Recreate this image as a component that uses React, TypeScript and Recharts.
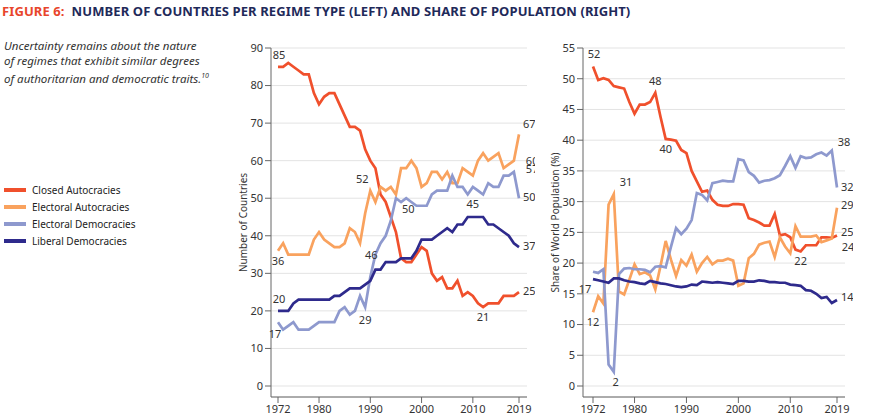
import React from "react";
import { CartesianGrid, Label, LabelList, Line, LineChart, XAxis, YAxis } from "recharts";

const years = Array.from({ length: 48 }, (_, i) => 1972 + i);

const closedCount = [85, 85, 86, 85, 84, 83, 83, 78, 75, 77, 78, 78, 75, 72, 69, 69, 68, 63, 60, 58, 51, 49, 45, 41, 34, 33, 33, 35, 37, 36, 30, 28, 29, 26, 26, 28, 24, 25, 24, 22, 21, 22, 22, 22, 24, 24, 24, 25];
const electoralAutCount = [36, 38, 35, 35, 35, 35, 35, 39, 41, 39, 38, 37, 37, 38, 42, 41, 38, 46, 52, 49, 53, 52, 53, 51, 58, 58, 60, 58, 53, 54, 57, 57, 55, 57, 54, 54, 58, 57, 56, 60, 62, 60, 61, 62, 58, 59, 60, 67];
const electoralDemCount = [17, 15, 16, 17, 15, 15, 15, 16, 17, 17, 17, 17, 20, 21, 19, 20, 24, 21, 29, 35, 38, 40, 44, 50, 49, 50, 49, 48, 48, 48, 51, 52, 52, 52, 56, 53, 53, 51, 53, 52, 51, 54, 53, 53, 56, 56, 57, 50];
const liberalCount = [20, 20, 20, 22, 23, 23, 23, 23, 23, 23, 23, 24, 24, 25, 26, 26, 26, 27, 28, 31, 31, 33, 33, 33, 34, 34, 34, 36, 39, 39, 39, 40, 41, 42, 41, 43, 43, 45, 45, 45, 45, 43, 43, 42, 41, 40, 38, 37];

const closedShare = [52, 49.8, 50.1, 49.8, 48.8, 48.6, 48.4, 46.2, 44.3, 45.8, 45.8, 46.2, 47.7, 43.8, 40.2, 40.1, 39.9, 38.4, 37.9, 35, 33.3, 31.6, 31.8, 30.3, 29.5, 29.3, 29.3, 29.6, 29.6, 29.5, 27.3, 27, 26.6, 26.1, 26.1, 28, 24.5, 24.7, 24.2, 22.2, 21.9, 22.9, 22.9, 22.9, 24.2, 24.2, 24.1, 24.5];
const electoralAutShare = [12, 14.6, 13.4, 29.5, 31.2, 15.4, 14.9, 17.3, 19.8, 18.2, 18.5, 18, 15.7, 19.5, 23.6, 20.6, 17.9, 20.5, 19.6, 21.4, 18.6, 20, 21, 19.8, 20.4, 20.4, 20.7, 20.4, 16.3, 16.7, 20.8, 21.5, 23, 23.3, 23.5, 21, 24.2, 22.7, 21.6, 26, 24.3, 24.3, 24.3, 24.5, 23.4, 23.7, 24, 29];
const electoralDemShare = [18.6, 18.4, 19, 3.5, 2.3, 18.2, 19.1, 19.2, 19, 19, 18.9, 18.5, 19.4, 19.5, 19.3, 22.6, 25.7, 24.7, 25.6, 27, 31.4, 31.1, 30.2, 33, 33.2, 33.4, 33.3, 33.3, 36.9, 36.7, 34.8, 34.2, 33.1, 33.4, 33.5, 33.8, 34.3, 35.8, 37.4, 35.5, 37.4, 37.1, 37.2, 37.7, 38, 37.5, 38.3, 32.3];
const liberalShare = [17.4, 17.2, 17, 16.8, 17.5, 17.5, 17.2, 17, 16.9, 16.7, 16.6, 17.1, 16.9, 16.7, 16.6, 16.4, 16.2, 16.1, 16.2, 16.5, 16.4, 17, 16.9, 16.8, 16.9, 16.8, 16.7, 16.6, 17.1, 17.1, 17, 17, 17.2, 17.1, 16.9, 16.9, 16.8, 16.8, 16.5, 16.4, 16.3, 15.6, 15.5, 15, 14.3, 14.5, 13.5, 14];

const xTicks = [1972, 1980, 1990, 2000, 2010, 2019];
const countTicks = [0, 10, 20, 30, 40, 50, 60, 70, 80, 90];
const shareTicks = [0, 5, 10, 15, 20, 25, 30, 35, 40, 45, 50, 55];

const colors = { closed: "#F0502C", eAut: "#F9A25E", eDem: "#8E99CE", lib: "#2E2A8C" };
const font = "'Noto Sans', sans-serif";

const countData = years.map((year, i) => ({ year, closed: closedCount[i], eAut: electoralAutCount[i], eDem: electoralDemCount[i], lib: liberalCount[i] }));
const shareData = years.map((year, i) => ({ year, closed: closedShare[i], eAut: electoralAutShare[i], eDem: electoralDemShare[i], lib: liberalShare[i] }));

// index -> [text, dx, dy]
type Marks = Record<number, [string, number, number]>;

const countLabels: Record<string, Marks> = {
  closed: { 0: ["85", 1, -8], 40: ["21", 0, 14], 47: ["25", 4, 3] },
  eAut: { 0: ["36", 0, 14], 16: ["46", 5, 16], 18: ["52", -8, -8], 47: ["67", 4, -6], 46: ["60", 12, 4] },
  eDem: { 0: ["17", -3, 16], 17: ["29", 0, 17], 23: ["50", 6, 15], 46: ["57", 12, 1], 47: ["50", 4, 3] },
  lib: { 0: ["20", 1, -8], 38: ["45", 0, -9], 47: ["37", 4, 3] },
};
const shareLabels: Record<string, Marks> = {
  closed: { 0: ["52", 1, -8], 12: ["48", 0, -8], 14: ["40", 0, 14], 40: ["22", 0, 14], 47: ["25", 4, 1] },
  eAut: { 0: ["12", 0, 14], 4: ["31", 6, -8], 47: ["29", 4, 1], 46: ["24", 10, 12] },
  eDem: { 4: ["2", 2, 14], 46: ["38", 6, -5], 47: ["32", 4, 3] },
  lib: { 0: ["17", -8, 14], 47: ["14", 4, 1] },
};

function markRenderer(marks: Marks) {
  return (p: any) => {
    const m = marks[p.index];
    if (!m) return null;
    return (
      <text x={p.x + m[1]} y={p.y + m[2]} fontSize={11} fill="#333" fontFamily={font} textAnchor={m[1] > 2 ? "start" : "middle"}>
        {m[0]}
      </text>
    );
  };
}

const series = [
  { key: "closed", color: colors.closed },
  { key: "eAut", color: colors.eAut },
  { key: "eDem", color: colors.eDem },
  { key: "lib", color: colors.lib },
];

function Panel({ data, labels, ticks, max, padLeft, title, width }: any) {
  return (
    <LineChart width={width} height={385} data={data} margin={{ top: 18, right: 8, bottom: 0, left: 0 }} style={{ overflow: "visible" }}>
      <CartesianGrid vertical={false} stroke="#E3E3E3" />
      <XAxis
        dataKey="year"
        type="number"
        domain={[1972, 2019]}
        ticks={xTicks}
        padding={{ left: padLeft, right: 8 }}
        stroke="#666"
        tick={{ fill: "#333", fontSize: 11, fontFamily: font }}
        height={18}
      />
      <YAxis
        domain={[0, max]}
        ticks={ticks}
        width={46}
        padding={{ top: 0, bottom: 11 }}
        stroke="#666"
        tick={{ fill: "#333", fontSize: 11, fontFamily: font }}
      >
        <Label value={title} angle={-90} position="insideLeft" offset={18} style={{ fontSize: 10, fill: "#333", fontFamily: font, textAnchor: "middle" }} />
      </YAxis>
      {series.map((s) => (
        <Line key={s.key} dataKey={s.key} stroke={s.color} strokeWidth={2.7} dot={false} isAnimationActive={false}>
          <LabelList dataKey={s.key} content={markRenderer(labels[s.key])} />
        </Line>
      ))}
    </LineChart>
  );
}

const legendItems = [
  ["Closed Autocracies", colors.closed],
  ["Electoral Autocracies", colors.eAut],
  ["Electoral Democracies", colors.eDem],
  ["Liberal Democracies", colors.lib],
];

export default function App() {
  return (
    <div style={{ position: "absolute", left: 0, top: 0, width: 886, height: 419, background: "#fff", fontFamily: font }}>
      <div style={{ position: "absolute", left: 2, top: 2, fontSize: 13, fontWeight: 700, color: "#1F2A5A", letterSpacing: 0.1 }}>
        <span style={{ color: "#E8452B" }}>FIGURE 6:</span>&nbsp; NUMBER OF COUNTRIES PER REGIME TYPE (LEFT) AND SHARE OF POPULATION (RIGHT)
      </div>
      <div style={{ position: "absolute", left: 4, top: 38, width: 205, fontSize: 11.5, fontStyle: "italic", color: "#333", lineHeight: "15px" }}>
        Uncertainty remains about the nature of regimes that exhibit similar degrees of authoritarian and democratic traits.<sup style={{ fontSize: 7 }}>10</sup>
      </div>
      <div style={{ position: "absolute", left: 4, top: 181 }}>
        {legendItems.map(([name, c]) => (
          <div key={name} style={{ display: "flex", alignItems: "center", height: 17, fontSize: 10, color: "#222" }}>
            <span style={{ display: "inline-block", width: 22, height: 4, background: c, marginRight: 6 }} />
            {name}
          </div>
        ))}
      </div>
      <div style={{ position: "absolute", left: 225, top: 30 }}>
        <Panel data={countData} labels={countLabels} ticks={countTicks} max={90} padLeft={7} title="Number of Countries" width={310} />
      </div>
      <div style={{ position: "absolute", left: 537, top: 30 }}>
        <Panel data={shareData} labels={shareLabels} ticks={shareTicks} max={55} padLeft={10} title="Share of World Population (%)" width={316} />
      </div>
    </div>
  );
}
